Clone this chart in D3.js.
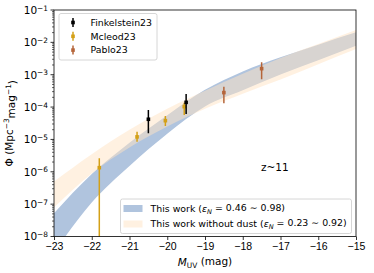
<!DOCTYPE html>
<html>
<head>
<meta charset="utf-8">
<script src="https://cdn.jsdelivr.net/npm/d3@7"></script>
<style>
  body { margin: 0; background: #fff; }
  svg { display: block; font-family: "DejaVu Sans", sans-serif; }
  .tick-label { font-size: 10.5px; fill: #000; }
  .legend-label { font-size: 9.4px; fill: #000; }
</style>
</head>
<body>
<svg id="chart" width="374" height="273"></svg>
<script>
// model bands, sampled along M_UV
const bandM = [-23, -22, -21, -20, -19, -18, -17, -16, -15];
const dustHi = [5.25e-8, 8.5e-7, 7.9e-6, 5.6e-5, 3.4e-4, 1.26e-3, 3.47e-3, 8.5e-3, 2.04e-2];
const dustLo = [3.2e-9, 1.12e-7, 1.51e-6, 1.51e-5, 1.05e-4, 3.3e-4, 1.02e-3, 2.8e-3, 7.8e-3];
const noDustHi = [5.0e-7, 3.5e-6, 2.0e-5, 8.9e-5, 3.2e-4, 1.07e-3, 3.3e-3, 8.9e-3, 2.4e-2];
const noDustLo = [7.9e-8, 8.9e-7, 5.6e-6, 2.5e-5, 8.9e-5, 2.6e-4, 7.1e-4, 2.1e-3, 6.2e-3];

// observations
const finkM = [-20.5, -19.5];
const finkPhi = [4.2e-5, 1.4e-4];
const finkLo = [1.55e-5, 6.1e-5];
const finkHi = [8.1e-5, 2.54e-4];

const mcleodM = [-21.8, -20.8, -20.05, -19.55];
const mcleodPhi = [1.34e-6, 1.2e-5, 3.8e-5, 1.03e-4];
const mcleodLo = [1e-9, 8.5e-6, 2.6e-5, 5.7e-5];
const mcleodHi = [2.61e-6, 1.74e-5, 5.3e-5, 1.36e-4];

const pabloM = [-18.5, -17.5];
const pabloPhi = [2.8e-4, 1.54e-3];
const pabloLo = [1.31e-4, 7.24e-4];
const pabloHi = [4.27e-4, 2.42e-3];

const xTicks = [-23, -22, -21, -20, -19, -18, -17, -16, -15];
const yExps = [-1, -2, -3, -4, -5, -6, -7, -8];

const COLORS = {
  dust: "#b0c4de",
  noDust: "#ffe4c4",
  fink: "#000000",
  mcleod: "#d4a017",
  pablo: "#b5653a",
};
const NODUST_OPACITY = 0.5;

const svg = d3.select("#chart");
const margin = { top: 10, right: 18, bottom: 36.5, left: 54 };
const W = 374, H = 273;

const x = d3.scaleLinear().domain([-23, -15]).range([margin.left, W - margin.right]);
const y = d3.scaleLog().domain([1e-8, 1e-1]).range([H - margin.bottom, margin.top]);

svg.append("defs").append("clipPath").attr("id", "plot-clip")
  .append("rect")
  .attr("x", margin.left).attr("y", margin.top)
  .attr("width", x(-15) - x(-23)).attr("height", y(1e-8) - y(1e-1));

const plot = svg.append("g").attr("clip-path", "url(#plot-clip)");

const band = (lo, hi) => d3.area()
  .x((d, i) => x(bandM[i]))
  .y0((d, i) => y(lo[i]))
  .y1((d, i) => y(hi[i]))
  .curve(d3.curveMonotoneX)(bandM);

plot.append("path").attr("d", band(dustLo, dustHi)).attr("fill", COLORS.dust);
plot.append("path").attr("d", band(noDustLo, noDustHi))
  .attr("fill", COLORS.noDust).attr("fill-opacity", NODUST_OPACITY);

// error bars
function drawSeries(ms, phi, lo, hi, color) {
  const g = plot.append("g");
  ms.forEach((m, i) => {
    g.append("line")
      .attr("x1", x(m)).attr("x2", x(m))
      .attr("y1", y(lo[i])).attr("y2", y(hi[i]))
      .attr("stroke", color).attr("stroke-width", 1.5);
    g.append("rect")
      .attr("x", x(m) - 1.8).attr("y", y(phi[i]) - 1.8)
      .attr("width", 3.6).attr("height", 3.6)
      .attr("fill", color);
  });
}
drawSeries(mcleodM, mcleodPhi, mcleodLo, mcleodHi, COLORS.mcleod);
drawSeries(finkM, finkPhi, finkLo, finkHi, COLORS.fink);
drawSeries(pabloM, pabloPhi, pabloLo, pabloHi, COLORS.pablo);

// axes
const xAxis = svg.append("g")
  .attr("transform", `translate(0,${H - margin.bottom})`)
  .call(d3.axisBottom(x).tickValues(xTicks).tickSize(3.5).tickFormat((d) => "\u2212" + Math.abs(d)));
xAxis.select(".domain").remove();
xAxis.selectAll(".tick line").attr("stroke", "#000").attr("stroke-width", 0.8);
xAxis.selectAll(".tick text").attr("class", "tick-label").attr("font-family", null).attr("dy", "0.95em").attr("y", 3.5);

const minor = [];
for (let e = -8; e < -1; e++) for (let k = 2; k <= 9; k++) minor.push(k * Math.pow(10, e));
svg.append("g").selectAll("line").data(minor).join("line")
  .attr("x1", margin.left - 2).attr("x2", margin.left)
  .attr("y1", (d) => y(d)).attr("y2", (d) => y(d))
  .attr("stroke", "#000").attr("stroke-width", 0.6);

const yAxis = svg.append("g").attr("class", "y-axis");
yExps.forEach((e) => {
  const yy = y(Math.pow(10, e));
  yAxis.append("line")
    .attr("x1", margin.left - 3.5).attr("x2", margin.left)
    .attr("y1", yy).attr("y2", yy)
    .attr("stroke", "#000").attr("stroke-width", 0.8);
  const t = yAxis.append("text")
    .attr("class", "tick-label")
    .attr("x", margin.left - 6).attr("y", yy).attr("dy", "0.38em")
    .attr("text-anchor", "end");
  t.append("tspan").text("10");
  t.append("tspan").attr("dy", "-0.45em").attr("font-size", "7.4px").text("\u2212" + Math.abs(e));
});

svg.append("rect")
  .attr("x", margin.left).attr("y", margin.top)
  .attr("width", x(-15) - x(-23)).attr("height", y(1e-8) - y(1e-1))
  .attr("fill", "none").attr("stroke", "#000").attr("stroke-width", 0.8);

// axis labels
svg.append("text")
  .attr("x", (x(-23) + x(-15)) / 2).attr("y", 266)
  .attr("text-anchor", "middle").attr("font-size", "10.5px")
  .call((t) => {
    t.append("tspan").attr("font-style", "italic").text("M");
    t.append("tspan").attr("font-size", "7.4px").attr("dy", "0.3em").text("UV");
    t.append("tspan").attr("dy", "-0.3em").text(" (mag)");
  });

svg.append("text")
  .attr("transform", `translate(13,${(y(1e-8) + y(1e-1)) / 2}) rotate(-90)`)
  .attr("text-anchor", "middle").attr("font-size", "10.5px")
  .call((t) => {
    t.append("tspan").text("\u03a6 (Mpc");
    t.append("tspan").attr("font-size", "7.4px").attr("dy", "-0.5em").text("\u22123");
    t.append("tspan").attr("dy", "0.5em").text("mag");
    t.append("tspan").attr("font-size", "7.4px").attr("dy", "-0.5em").text("\u22121");
    t.append("tspan").attr("dy", "0.5em").text(")");
  });

svg.append("text")
  .attr("x", x(-17.15)).attr("y", y(1e-6) - 1)
  .attr("text-anchor", "middle").attr("font-size", "10.5px")
  .text("z~11");

// data legend (top-left)
const legendTop = svg.append("g").attr("transform", "translate(59,13.5)");
legendTop.append("rect")
  .attr("width", 98).attr("height", 46.5).attr("rx", 2)
  .attr("fill", "#fff").attr("fill-opacity", 0.8)
  .attr("stroke", "#ccc").attr("stroke-width", 0.8);
[["Finkelstein23", COLORS.fink], ["Mcleod23", COLORS.mcleod], ["Pablo23", COLORS.pablo]]
  .forEach(([label, color], i) => {
    legendTop.append("g")
      .attr("transform", `translate(0,${9 + i * 13.8})`)
      .call((g) => g.append("line")
        .attr("x1", 14).attr("x2", 14).attr("y1", -4.5).attr("y2", 4.5)
        .attr("stroke", color).attr("stroke-width", 1.5))
      .call((g) => g.append("rect")
        .attr("x", 12.2).attr("y", -1.8).attr("width", 3.6).attr("height", 3.6)
        .attr("fill", color))
      .call((g) => g.append("text")
        .attr("class", "legend-label").attr("x", 31.5).attr("dy", "0.35em")
        .text(label));
  });

// model legend (bottom)
const legendBot = svg.append("g").attr("transform", "translate(120.5,199)");
legendBot.append("rect")
  .attr("width", 231).attr("height", 34.5).attr("rx", 2)
  .attr("fill", "#fff").attr("fill-opacity", 0.8)
  .attr("stroke", "#ccc").attr("stroke-width", 0.8);
[
  ["This work", "0.46 \u223c 0.98", COLORS.dust, 1],
  ["This work without dust", "0.23 \u223c 0.92", COLORS.noDust, NODUST_OPACITY],
].forEach(([label, range, color, op], i) => {
  legendBot.append("g")
    .attr("transform", `translate(0,${9.5 + i * 15.5})`)
    .call((g) => g.append("rect")
      .attr("x", 3).attr("y", -3.5).attr("width", 19).attr("height", 7)
      .attr("fill", color).attr("fill-opacity", op))
    .call((g) => g.append("text")
      .attr("class", "legend-label").attr("x", 30).attr("dy", "0.35em")
      .call((t) => {
        t.append("tspan").text(label + " (");
        t.append("tspan").attr("font-style", "italic").text("\u03b5");
        t.append("tspan").attr("font-style", "italic").attr("font-size", "6.6px").attr("dy", "0.3em").text("N");
        t.append("tspan").attr("dy", "-0.3em").text(" = " + range + ")");
      }));
});
</script>
</body>
</html>
